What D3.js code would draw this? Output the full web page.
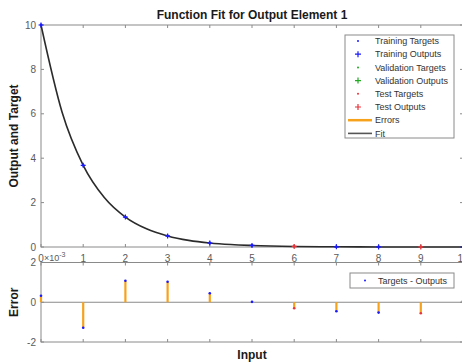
<!DOCTYPE html>
<html>
<head>
<meta charset="utf-8">
<script src="https://cdn.jsdelivr.net/npm/d3@7"></script>
<style>
  html, body { margin: 0; padding: 0; background: #fff; }
  svg { display: block; font-family: "Liberation Sans", Arial, sans-serif; }
</style>
</head>
<body>
<svg id="chart" width="462" height="363"></svg>
<script>
// inputs and targets of the fit
const inputs = [0, 1, 2, 3, 4, 5, 6, 7, 8, 9, 10];
const targets = [10, 3.68, 1.35, 0.5, 0.18, 0.07, 0.025, 0.009, 0.003, 0.001, 0.0005];
// errors (targets - outputs), in units of 1e-3
const errors = [0.33, -1.28, 1.08, 1.03, 0.45, 0.02, -0.3, -0.45, -0.52, -0.55, 0.05];
const sets = ['train', 'train', 'train', 'train', 'train', 'train', 'test', 'train', 'train', 'test', 'train'];
// fit curve samples
const fitX = [0, 0.5, 1, 1.5, 2, 2.5, 3, 3.5, 4, 4.5, 5, 6, 7, 8, 9, 10];
const fitY = [10, 6.07, 3.68, 2.23, 1.35, 0.82, 0.5, 0.3, 0.18, 0.11, 0.07, 0.025, 0.009, 0.003, 0.001, 0.0005];
const xTicks = [0, 1, 2, 3, 4, 5, 6, 7, 8, 9, 10];
const yTicks = [0, 2, 4, 6, 8, 10];
const errTicks = [-2, 0, 2];
const legendItems = ['Training Targets', 'Training Outputs', 'Validation Targets', 'Validation Outputs', 'Test Targets', 'Test Outputs', 'Errors', 'Fit'];

const setColor = { train: '#1a1aff', val: '#22aa22', test: '#e8343b' };
const axisColor = '#8a8a8a';
const textColor = '#5a5a5a';
const orange = '#f7a21b';

const data = inputs.map((x, i) => ({
  x, target: targets[i], output: targets[i] - errors[i] / 1000, err: errors[i], set: sets[i]
}));

const svg = d3.select('#chart');

const x = d3.scaleLinear().domain([0, 10]).range([41, 463]);
const y = d3.scaleLinear().domain([0, 10]).range([247, 25]);
const yErr = d3.scaleLinear().domain([-2, 2]).range([342, 262.5]);

function box(g, top, bottom) {
  g.append('rect')
    .attr('x', x(0)).attr('y', top)
    .attr('width', x(10) - x(0)).attr('height', bottom - top)
    .attr('fill', 'none').attr('stroke', axisColor).attr('stroke-width', 1);
  g.selectAll('.xt-b').data(xTicks).enter().append('line')
    .attr('x1', d => x(d)).attr('x2', d => x(d))
    .attr('y1', bottom).attr('y2', bottom - 3)
    .attr('stroke', axisColor);
  g.selectAll('.xt-t').data(xTicks).enter().append('line')
    .attr('x1', d => x(d)).attr('x2', d => x(d))
    .attr('y1', top).attr('y2', top + 3)
    .attr('stroke', axisColor);
}

/** top plot */
const fitG = svg.append('g');
box(fitG, y(10), y(0));
fitG.selectAll('.yt').data(yTicks).enter().append('g')
  .each(function (d) {
    const g = d3.select(this);
    g.append('line').attr('x1', x(0)).attr('x2', x(0) + 3).attr('y1', y(d)).attr('y2', y(d)).attr('stroke', axisColor);
    g.append('line').attr('x1', x(10)).attr('x2', x(10) - 3).attr('y1', y(d)).attr('y2', y(d)).attr('stroke', axisColor);
  });
fitG.selectAll('.ylab').data(yTicks).enter().append('text')
  .attr('x', x(0) - 5).attr('y', d => y(d) + 3.5)
  .attr('text-anchor', 'end').attr('font-size', 10).attr('fill', textColor)
  .text(d => d);
fitG.selectAll('.xlab').data(xTicks).enter().append('text')
  .attr('x', d => x(d)).attr('y', 262)
  .attr('text-anchor', 'middle').attr('font-size', 10).attr('fill', textColor)
  .text(d => d);

const line = d3.line().x(d => x(d[0])).y(d => y(d[1])).curve(d3.curveMonotoneX);
fitG.append('path')
  .datum(fitX.map((v, i) => [v, fitY[i]]))
  .attr('d', line).attr('fill', 'none').attr('stroke', '#2b2b2b').attr('stroke-width', 1.6);

// outputs (+) and targets (.)
fitG.selectAll('.out').data(data).enter().append('path')
  .attr('d', d => `M${x(d.x) - 2.5},${y(d.output)}h5M${x(d.x)},${y(d.output) - 2.5}v5`)
  .attr('stroke', d => setColor[d.set]).attr('stroke-width', 1.2);
fitG.selectAll('.tgt').data(data).enter().append('circle')
  .attr('cx', d => x(d.x)).attr('cy', d => y(d.target)).attr('r', 1.4)
  .attr('fill', d => setColor[d.set]);

svg.append('text')
  .attr('x', (x(0) + x(10)) / 2).attr('y', 19)
  .attr('text-anchor', 'middle').attr('font-size', 12).attr('font-weight', 'bold').attr('fill', '#1a1a1a')
  .text('Function Fit for Output Element 1');
svg.append('text')
  .attr('transform', `translate(18,${(y(0) + y(10)) / 2}) rotate(-90)`)
  .attr('text-anchor', 'middle').attr('font-size', 12).attr('font-weight', 'bold').attr('fill', '#1a1a1a')
  .text('Output and Target');

// legend
const lg = svg.append('g');
lg.append('rect').attr('x', 345).attr('y', 35).attr('width', 109).attr('height', 103)
  .attr('fill', '#fff').attr('stroke', axisColor);
const legendSym = [
  { type: 'dot', color: setColor.train }, { type: 'plus', color: setColor.train },
  { type: 'dot', color: setColor.val }, { type: 'plus', color: setColor.val },
  { type: 'dot', color: setColor.test }, { type: 'plus', color: setColor.test },
  { type: 'line', color: orange, w: 2.5 }, { type: 'line', color: '#555', w: 1.6 }
];
legendItems.forEach((label, i) => {
  const cy = 41 + i * 13.2;
  const s = legendSym[i];
  if (s.type === 'dot') {
    lg.append('circle').attr('cx', 358).attr('cy', cy).attr('r', 1).attr('fill', s.color);
  } else if (s.type === 'plus') {
    lg.append('path').attr('d', `M355,${cy}h6M358,${cy - 3}v6`).attr('stroke', s.color).attr('stroke-width', 1.2);
  } else {
    lg.append('line').attr('x1', 348).attr('x2', 372).attr('y1', cy).attr('y2', cy)
      .attr('stroke', s.color).attr('stroke-width', s.w);
  }
  lg.append('text').attr('x', 375).attr('y', cy + 3.2)
    .attr('font-size', 9).attr('fill', '#333').text(label);
});

/** error plot */
const errG = svg.append('g');
box(errG, yErr(2), yErr(-2));
errG.selectAll('.yt').data(errTicks).enter().append('g')
  .each(function (d) {
    const g = d3.select(this);
    g.append('line').attr('x1', x(0)).attr('x2', x(0) + 3).attr('y1', yErr(d)).attr('y2', yErr(d)).attr('stroke', axisColor);
    g.append('line').attr('x1', x(10)).attr('x2', x(10) - 3).attr('y1', yErr(d)).attr('y2', yErr(d)).attr('stroke', axisColor);
  });
errG.selectAll('.ylab').data(errTicks).enter().append('text')
  .attr('x', x(0) - 5).attr('y', d => yErr(d) + 3.5)
  .attr('text-anchor', 'end').attr('font-size', 10).attr('fill', textColor)
  .text(d => d);
errG.append('line').attr('x1', x(0)).attr('x2', x(10)).attr('y1', yErr(0)).attr('y2', yErr(0))
  .attr('stroke', axisColor).attr('stroke-width', 1.2);
const expo = errG.append('text').attr('x', x(0) + 3).attr('y', 260.5)
  .attr('font-size', 9).attr('fill', textColor);
expo.append('tspan').text('\u00d710');
expo.append('tspan').attr('dy', -4).attr('font-size', 7).text('-3');

errG.selectAll('.bar').data(data).enter().append('line')
  .attr('x1', d => x(d.x)).attr('x2', d => x(d.x))
  .attr('y1', yErr(0)).attr('y2', d => yErr(d.err))
  .attr('stroke', orange).attr('stroke-width', 2.2);
errG.selectAll('.edot').data(data).enter().append('circle')
  .attr('cx', d => x(d.x)).attr('cy', d => yErr(d.err)).attr('r', 1.3)
  .attr('fill', d => setColor[d.set]);

errG.append('rect').attr('x', 350).attr('y', 273).attr('width', 104).attr('height', 15)
  .attr('fill', '#fff').attr('stroke', axisColor);
errG.append('circle').attr('cx', 365).attr('cy', 280.5).attr('r', 1).attr('fill', setColor.train);
errG.append('text').attr('x', 378).attr('y', 283.7).attr('font-size', 9).attr('fill', '#333').text('Targets - Outputs');

svg.append('text')
  .attr('transform', `translate(18,${yErr(0)}) rotate(-90)`)
  .attr('text-anchor', 'middle').attr('font-size', 12).attr('font-weight', 'bold').attr('fill', '#1a1a1a')
  .text('Error');
svg.append('text')
  .attr('x', (x(0) + x(10)) / 2).attr('y', 359)
  .attr('text-anchor', 'middle').attr('font-size', 12).attr('font-weight', 'bold').attr('fill', '#1a1a1a')
  .text('Input');
</script>
</body>
</html>
